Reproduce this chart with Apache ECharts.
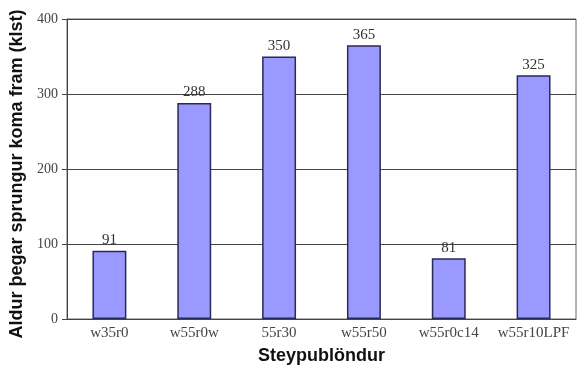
<!DOCTYPE html>
<html>
<head>
<meta charset="utf-8">
<script src="https://cdn.jsdelivr.net/npm/echarts@6/dist/echarts.min.js"></script>
<style>
  html, body { margin: 0; padding: 0; background: #fff; }
  #chart { width: 578px; height: 369px; }
</style>
</head>
<body>
<div id="chart"></div>
<script>
// Concrete mixes and the age at which cracks appeared (hours)
const categories = ['w35r0', 'w55r0w', '55r30', 'w55r50', 'w55r0c14', 'w55r10LPF'];
const crackAge = [91, 288, 350, 365, 81, 325];
const yTicks = [0, 100, 200, 300, 400];

const chart = echarts.init(document.getElementById('chart'), null, { renderer: 'canvas' });

chart.setOption({
  animation: false,
  backgroundColor: '#ffffff',
  grid: {
    left: 67, right: 2, top: 19, bottom: 50,
    outerBoundsMode: 'none',
    containLabel: false,
    show: true, borderColor: '#666', borderWidth: 1
  },
  xAxis: {
    type: 'category',
    data: categories,
    name: 'Steypublöndur',
    nameLocation: 'middle',
    nameGap: 28,
    nameTextStyle: { fontFamily: 'Liberation Sans', fontWeight: 'bold', fontSize: 18, color: '#111' },
    axisLine: { lineStyle: { color: '#444', width: 1 } },
    axisTick: { show: false },
    axisLabel: { interval: 0, fontFamily: 'Liberation Serif', fontSize: 15, color: '#444', margin: 7 }
  },
  yAxis: {
    type: 'value',
    min: yTicks[0],
    max: yTicks[yTicks.length - 1],
    interval: 100,
    name: 'Aldur þegar sprungur koma fram (klst)',
    nameLocation: 'middle',
    nameGap: 40,
    nameTextStyle: {
      fontFamily: 'Liberation Sans', fontWeight: 'bold', fontSize: 18, color: '#111',
      padding: [0, 10, 0, 0]
    },
    axisLine: { show: true, lineStyle: { color: '#444', width: 1 } },
    axisTick: { show: true, length: 5, lineStyle: { color: '#444' } },
    axisLabel: { fontFamily: 'Liberation Serif', fontSize: 14, color: '#444', margin: 9 },
    splitLine: { show: true, lineStyle: { color: '#444', width: 1 } }
  },
  series: [{
    type: 'bar',
    data: crackAge,
    barWidth: '40%',
    itemStyle: { color: '#9999ff', borderColor: '#2a2a55', borderWidth: 1.5 },
    label: {
      show: true,
      position: 'top',
      distance: 3,
      fontFamily: 'Liberation Serif',
      fontSize: 15,
      color: '#333'
    }
  }]
});
</script>
</body>
</html>
